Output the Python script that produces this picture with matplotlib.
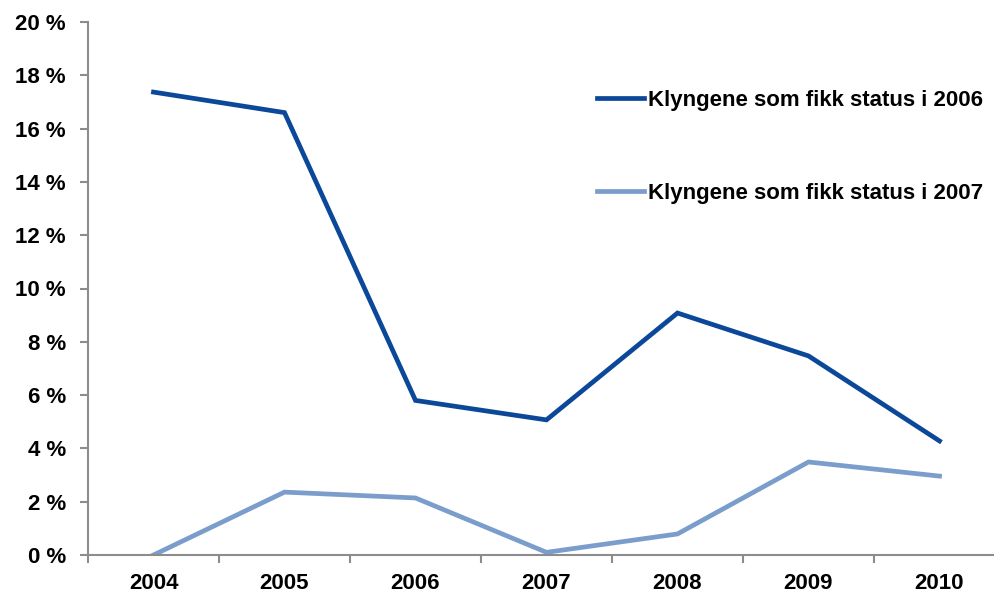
import matplotlib
matplotlib.use("Agg")
import matplotlib.pyplot as plt
from matplotlib.ticker import FixedLocator, NullFormatter

years = ["2004", "2005", "2006", "2007", "2008", "2009", "2010"]
status_2006 = [17.37, 16.6, 5.8, 5.07, 9.08, 7.47, 4.28]
status_2007 = [0.0, 2.36, 2.14, 0.1, 0.79, 3.49, 2.96]
labels = ["Klyngene som fikk status i 2006", "Klyngene som fikk status i 2007"]
y_ticks = list(range(0, 21, 2))

plt.rcParams['font.family'] = ['Liberation Sans', 'DejaVu Sans']
plt.rcParams['font.weight'] = 'bold'

fig = plt.figure(figsize=(9.95, 5.98), dpi=100)
ax = fig.add_axes([88 / 995, 43 / 598, 917 / 995, 533 / 598])

x = list(range(len(years)))
ax.plot(x, status_2006, color="#0C4899", lw=3.4, label=labels[0], solid_joinstyle="miter")
ax.plot(x, status_2007, color="#7B9DCC", lw=3.4, label=labels[1], solid_joinstyle="miter")

ax.set_xlim(-0.5, len(years) - 0.5)
ax.set_ylim(0, 20)
ax.set_yticks(y_ticks)
ax.set_yticklabels([f"{v} %" for v in y_ticks], fontsize=16, fontweight="bold")
ax.set_xticks(x)
ax.set_xticklabels(years, fontsize=16, fontweight="bold")
ax.tick_params(axis="x", which="major", length=0, pad=13)
ax.xaxis.set_minor_locator(FixedLocator([i - 0.5 for i in range(len(years) + 1)]))
ax.xaxis.set_minor_formatter(NullFormatter())
ax.tick_params(axis="x", which="minor", length=6, width=1.5, color="#8c8c8c")
ax.tick_params(axis="y", length=6, width=1.5, color="#8c8c8c", pad=10)

for side in ["top", "right"]:
    ax.spines[side].set_visible(False)
for side in ["left", "bottom"]:
    ax.spines[side].set_color("#8c8c8c")
    ax.spines[side].set_linewidth(1.5)

ax.legend(loc="upper left", bbox_to_anchor=(597 / 995, 1 - 90 / 598),
          bbox_transform=fig.transFigure, frameon=False, fontsize=16,
          handlelength=2.1, handletextpad=0.2, labelspacing=3.25,
          borderaxespad=0, borderpad=0)

fig.savefig("out.png", dpi=100)
